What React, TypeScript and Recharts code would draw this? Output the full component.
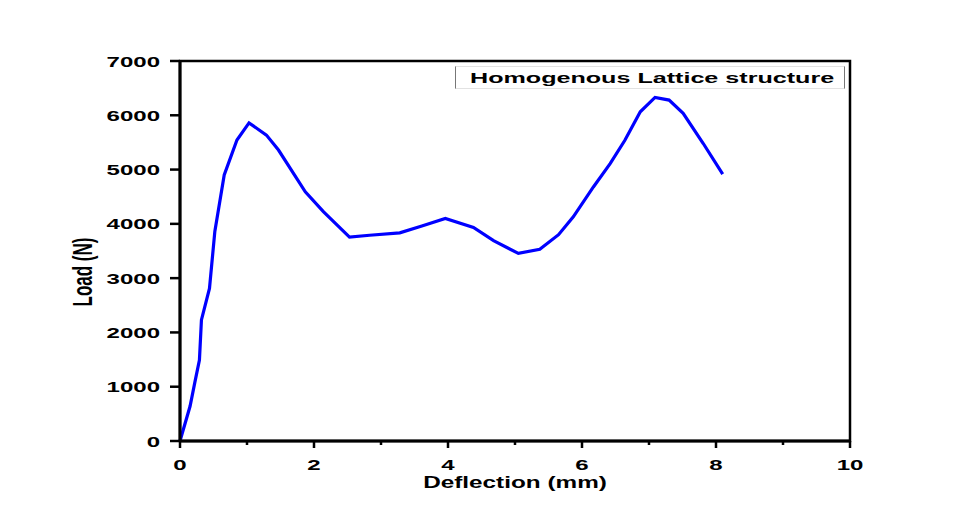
import { Legend, Line, LineChart, ReferenceArea, XAxis, YAxis } from "recharts"

// load–deflection readings for the lattice specimen
const deflection = [
  0, 0.15, 0.22, 0.29, 0.32, 0.44, 0.52, 0.66, 0.85, 1.03, 1.29, 1.47, 1.87, 2.14, 2.53, 2.83, 3.28, 3.61,
  3.96, 4.38, 4.68, 5.05, 5.37, 5.65, 5.87, 6.17, 6.42, 6.64, 6.87, 7.09, 7.3, 7.51, 7.81, 8.1,
]
const load = [
  0, 640, 1070, 1490, 2230, 2810, 3860, 4900, 5545, 5860, 5635, 5360, 4590, 4225, 3755, 3790, 3835, 3960,
  4100, 3935, 3690, 3455, 3530, 3800, 4130, 4680, 5110, 5540, 6065, 6330, 6280, 6035, 5480, 4915,
]
const xTicks = [0, 1, 2, 3, 4, 5, 6, 7, 8, 9, 10]
const yTicks = [0, 1000, 2000, 3000, 4000, 5000, 6000, 7000]
const seriesName = "Homogenous Lattice structure"

const data = deflection.map((d, i) => ({ deflection: d, load: load[i] }))

const FONT = "'Liberation Sans', Arial, sans-serif"
const STRETCH = 1.6

function XTick({ x, y, payload }: any) {
  const v = payload.value as number
  const major = v % 2 === 0
  return (
    <g>
      <line x1={x} x2={x} y1={y} y2={y + (major ? 7 : 4)} stroke="#000" strokeWidth={2.5} />
      {major && (
        <text
          transform={`translate(${x},${y + 29}) scale(1.55,1)`}
          textAnchor="middle"
          fontFamily={FONT}
          fontWeight="bold"
          fontSize={15.5}
          fill="#000"
        >
          {v}
        </text>
      )}
    </g>
  )
}

function YTick({ x, y, payload }: any) {
  return (
    <g>
      <line x1={x - 10} x2={x} y1={y} y2={y} stroke="#000" strokeWidth={2.5} />
      <text
        transform={`translate(${x - 20},${y + 5.5}) scale(1.55,1)`}
        textAnchor="end"
        fontFamily={FONT}
        fontWeight="bold"
        fontSize={15.5}
        fill="#000"
      >
        {payload.value}
      </text>
    </g>
  )
}

function LegendBox() {
  return (
    <div
      style={{
        boxSizing: "border-box",
        width: 390,
        height: 23,
        borderLeft: "1px solid #777",
        borderRight: "1px solid #777",
        borderTop: "1px solid #e2e2e2",
        borderBottom: "1px solid #e2e2e2",
        background: "#fff",
        position: "relative",
      }}
    >
      <span
        style={{
          position: "absolute",
          left: 14,
          top: 2,
          fontFamily: FONT,
          fontWeight: "bold",
          fontSize: 15.5,
          lineHeight: "18px",
          whiteSpace: "nowrap",
          color: "#000",
          transform: "scaleX(1.62)",
          transformOrigin: "left center",
        }}
      >
        {seriesName}
      </span>
    </div>
  )
}

export default function App() {
  return (
    <div style={{ width: 980, height: 525, background: "#fff" }}>
      <style>{"body{margin:0}"}</style>
      <LineChart width={980} height={525} data={data} margin={{ top: 61, right: 130, bottom: 54, left: 90 }}>
        <XAxis
          dataKey="deflection"
          type="number"
          domain={[0, 10]}
          ticks={xTicks}
          interval={0}
          height={30}
          tickSize={0}
          tickMargin={0}
          tickLine={false}
          tick={<XTick />}
          axisLine={{ stroke: "#000", strokeWidth: 3 }}
          label={({ viewBox }: any) => (
            <text
              transform={`translate(${viewBox.x + viewBox.width / 2},${viewBox.y + 47}) scale(1.52,1)`}
              textAnchor="middle"
              fontFamily={FONT}
              fontWeight="bold"
              fontSize={16}
              fill="#000"
            >
              Deflection (mm)
            </text>
          )}
        />
        <YAxis
          type="number"
          domain={[0, 7000]}
          ticks={yTicks}
          interval={0}
          width={90}
          tickSize={0}
          tickMargin={0}
          tickLine={false}
          tick={<YTick />}
          axisLine={{ stroke: "#000", strokeWidth: 3 }}
          label={() => (
            <text
              transform={`translate(92,272) scale(${STRETCH},1) rotate(-90)`}
              textAnchor="middle"
              fontFamily={FONT}
              fontWeight="bold"
              fontSize={17}
              fill="#000"
            >
              Load (N)
            </text>
          )}
        />
        <ReferenceArea x1={0} x2={10} y1={0} y2={7000} stroke="#000" strokeWidth={2.5} fill="none" fillOpacity={0} />
        <Legend
          layout="horizontal"
          verticalAlign="middle"
          align="center"
          content={<LegendBox />}
          wrapperStyle={{ left: 455, top: 66, width: 390 }}
        />
        <Line
          type="linear"
          dataKey="load"
          name={seriesName}
          stroke="#0000ff"
          strokeWidth={3.2}
          dot={false}
          activeDot={false}
          isAnimationActive={false}
        />
      </LineChart>
    </div>
  )
}
